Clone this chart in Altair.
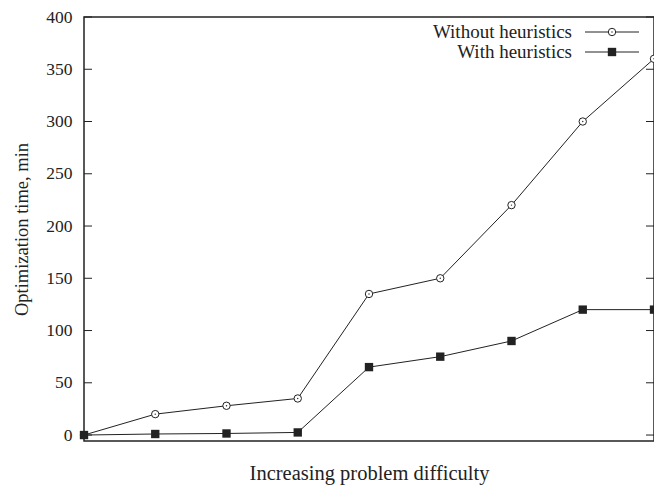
import altair as alt
import pandas as pd

steps = list(range(9))
without_h = [0, 20, 28, 35, 135, 150, 220, 300, 360]
with_h = [0, 1, 1.5, 2.5, 65, 75, 90, 120, 120]
y_ticks = [0, 50, 100, 150, 200, 250, 300, 350, 400]
series_names = ["Without heuristics", "With heuristics"]

W, H = 570, 424
FONT = "Liberation Serif"
INK = "#222222"

df_wo = pd.DataFrame({"step": steps, "time": without_h})
df_w = pd.DataFrame({"step": steps, "time": with_h})
df_ticks = pd.DataFrame({"tick": y_ticks})

xs = alt.Scale(domain=[0, 8], nice=False, zero=False)
ys = alt.Scale(domain=[-5.7, 400], nice=False, zero=False)

x = alt.X("step:Q", scale=xs, axis=alt.Axis(
    title="Increasing problem difficulty", labels=False, ticks=False,
    domain=False, grid=False, titleFont=FONT, titleFontSize=20.5,
    titleFontWeight="normal", titleColor=INK, titlePadding=22))
y = alt.Y("time:Q", scale=ys, axis=alt.Axis(
    values=y_ticks, title="Optimization time, min", grid=False, ticks=False,
    domain=False, labelPadding=12, labelFont=FONT, labelFontSize=17.5,
    labelColor=INK, titleFont=FONT, titleFontSize=18.5, titleFontWeight="normal",
    titleColor=INK, titlePadding=14))

line_wo = alt.Chart(df_wo).mark_line(color=INK, strokeWidth=1).encode(x=x, y=y)
line_w = alt.Chart(df_w).mark_line(color=INK, strokeWidth=1).encode(x=x, y=y)
pts_wo = alt.Chart(df_wo).mark_point(shape="circle", size=55, filled=True, fill="white",
                                     stroke=INK, strokeWidth=1, opacity=1).encode(x=x, y=y)
dot_wo = alt.Chart(df_wo).mark_circle(size=2, color=INK, opacity=1).encode(x=x, y=y)
pts_w = alt.Chart(df_w).mark_point(shape="square", size=70, filled=True, fill=INK,
                                   opacity=1).encode(x=x, y=y)

ticks_l = alt.Chart(df_ticks).mark_rule(color=INK, strokeWidth=1).encode(
    y=alt.Y("tick:Q", scale=ys), x=alt.value(0), x2=alt.value(8))
ticks_r = alt.Chart(df_ticks).mark_rule(color=INK, strokeWidth=1).encode(
    y=alt.Y("tick:Q", scale=ys), x=alt.value(W - 8), x2=alt.value(W))

# manual gnuplot-style legend (label left of sample)
legend_layers = []
for i, name in enumerate(series_names):
    ly = 15 + 20 * i
    ldf = pd.DataFrame({"name": [name]})
    legend_layers.append(alt.Chart(ldf).mark_text(
        align="right", baseline="middle", font=FONT, fontSize=19, color=INK).encode(
        text="name:N", x=alt.value(488), y=alt.value(ly)))
    legend_layers.append(alt.Chart(ldf).mark_rule(color=INK, strokeWidth=1).encode(
        x=alt.value(501), x2=alt.value(555), y=alt.value(ly)))
    if i == 0:
        legend_layers.append(alt.Chart(ldf).mark_point(
            shape="circle", size=55, filled=True, fill="white", stroke=INK,
            strokeWidth=1, opacity=1).encode(x=alt.value(528), y=alt.value(ly)))
        legend_layers.append(alt.Chart(ldf).mark_circle(size=2, color=INK, opacity=1).encode(
            x=alt.value(528), y=alt.value(ly)))
    else:
        legend_layers.append(alt.Chart(ldf).mark_point(
            shape="square", size=70, filled=True, fill=INK, opacity=1).encode(
            x=alt.value(528), y=alt.value(ly)))

chart = alt.layer(
    ticks_l, ticks_r, line_wo, line_w, pts_wo, dot_wo, pts_w, *legend_layers
).properties(
    width=W, height=H,
    autosize=alt.AutoSizeParams(type="none"),
    padding={"left": 76, "top": 9, "right": 0, "bottom": 45},
    background="white",
).configure_view(stroke=INK, strokeWidth=1.5)

chart.save("out.html", embed_options={"renderer": "svg", "actions": False})
